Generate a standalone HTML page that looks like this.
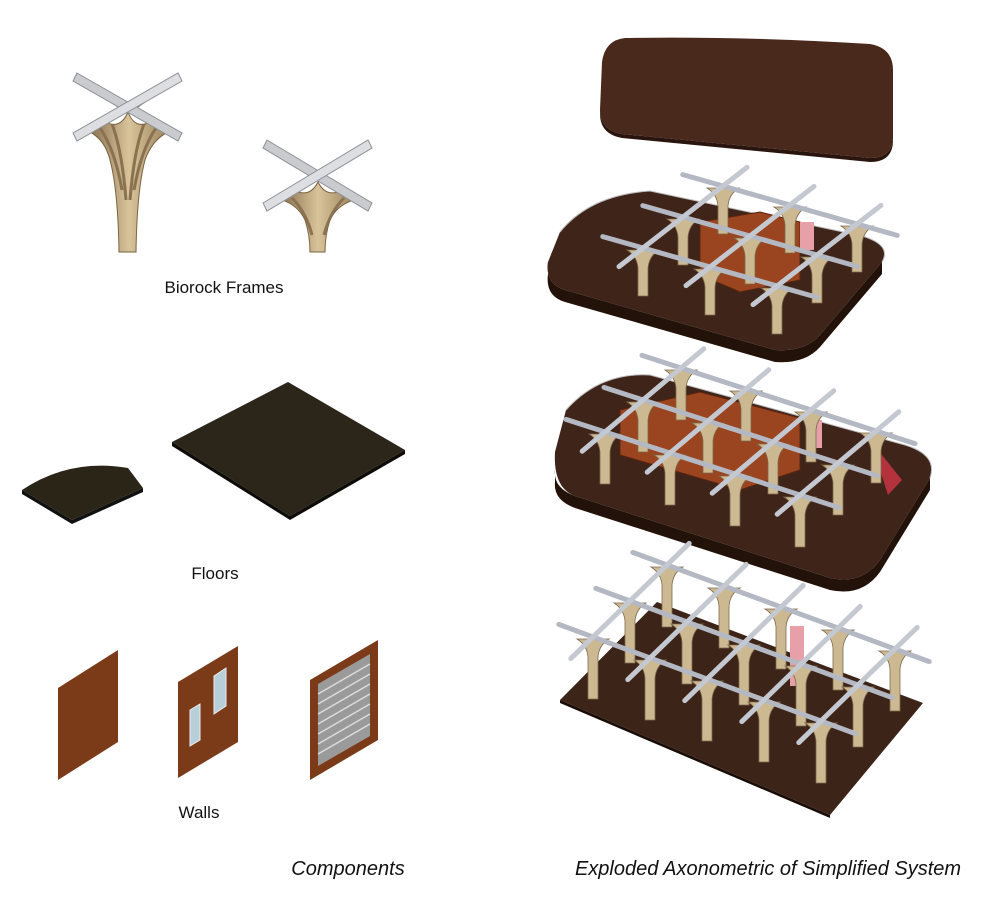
<!DOCTYPE html>
<html><head><meta charset="utf-8"><style>
html,body{margin:0;padding:0;background:#fff;}
svg{display:block}
text{font-family:"Liberation Sans",sans-serif;fill:#111;}
</style></head><body>
<svg id="s" width="995" height="898" viewBox="0 0 995 898">
<defs>
<linearGradient id="col" x1="0" x2="1"><stop offset="0" stop-color="#8a7150"/><stop offset=".5" stop-color="#d8c39a"/><stop offset="1" stop-color="#9c845e"/></linearGradient>
</defs>

<!-- Biorock frames -->
<g>
 <path d="M90,132 Q105,140 110,160 Q118,190 119,252 L136,252 Q137,190 145,160 Q152,140 168,132 L150,122 Q135,130 128,112 Q120,130 106,122 Z" fill="url(#col)" stroke="#7a6442" stroke-width="1"/>
 <path d="M84,82 Q110,100 124,110 M172,82 Q146,100 132,110 M100,128 Q115,150 122,190 M156,128 Q141,150 134,190 M112,124 Q122,150 126,200 M144,124 Q134,150 130,200" stroke="#8a7150" stroke-width="3" fill="none"/>
 <path d="M77,73 L182,133 L178,141 L73,81 Z" fill="#c9cbcf" stroke="#8d9096"/>
 <path d="M73,133 L178,73 L182,81 L77,141 Z" fill="#dcdee2" stroke="#8d9096"/>
</g>
<g>
 <path d="M282,200 Q298,205 305,220 Q310,235 310,252 L325,252 Q325,235 330,220 Q337,205 354,200 L338,192 Q325,196 318,182 Q311,196 298,192 Z" fill="url(#col)" stroke="#7a6442" stroke-width="1"/>
 <path d="M276,150 Q300,165 314,176 M360,150 Q336,165 322,176 M292,198 Q306,212 312,235 M344,198 Q330,212 324,235" stroke="#8a7150" stroke-width="3" fill="none"/>
 <path d="M267,140 L372,203 L368,211 L263,148 Z" fill="#c9cbcf" stroke="#8d9096"/>
 <path d="M263,203 L368,140 L372,148 L267,211 Z" fill="#dcdee2" stroke="#8d9096"/>
</g>
<text x="224" y="293" font-size="17" text-anchor="middle">Biorock Frames</text>

<!-- Floors -->
<path d="M22,490 Q70,458 128,468 L143,488 L72,520 Z" fill="#2b2518"/>
<path d="M22,490 L72,520 L72,524 L22,494 Z M72,520 L143,488 L143,492 L72,524Z" fill="#111"/>
<path d="M172,442 L288,382 L405,450 L290,516 Z" fill="#2c2519"/>
<path d="M172,442 L290,516 L290,520 L172,446 Z M290,516 L405,450 L405,454 L290,520Z" fill="#0e0c08"/>
<text x="215" y="579" font-size="17" text-anchor="middle">Floors</text>

<!-- Walls -->
<path d="M58,688 L118,650 L118,742 L58,780 Z" fill="#7b3a18"/>
<path d="M178,682 L238,646 L238,742 L178,778 Z" fill="#7b3a18"/>
<path d="M190,710 L200,704 L200,740 L190,746Z M214,676 L226,668 L226,706 L214,714Z" fill="#b7cfd8" stroke="#eee"/>
<path d="M310,680 L378,640 L378,740 L310,780 Z" fill="#7b3a18"/>
<path d="M318,684 L370,654 L370,736 L318,766 Z" fill="#9a9a9a"/>
<g stroke="#dcdcdc" stroke-width="1.5">
 <line x1="318" y1="694" x2="370" y2="664"/><line x1="318" y1="704" x2="370" y2="674"/><line x1="318" y1="714" x2="370" y2="684"/><line x1="318" y1="724" x2="370" y2="694"/><line x1="318" y1="734" x2="370" y2="704"/><line x1="318" y1="744" x2="370" y2="714"/><line x1="318" y1="754" x2="370" y2="724"/>
</g>
<text x="199" y="818" font-size="17" text-anchor="middle">Walls</text>

<!-- Roof -->
<path d="M625,38 Q740,36 870,44 Q893,48 893,70 L893,138 Q892,158 870,158 L622,134 Q600,130 600,110 L602,62 Q605,40 625,38 Z" fill="#4a291d"/>
<path d="M600,110 Q600,130 622,134 L870,158 Q892,158 893,138 L893,142 Q892,162 870,162 L622,138 Q600,134 600,114Z" fill="#2a150e"/>

<!-- Upper platform -->
<g>
 <path d="M548,262 L560,232 Q590,195 650,191 L862,236 Q892,245 882,262 L820,335 Q805,352 775,350 L565,290 Q545,284 548,262 Z" fill="#3f2419"/>
 <path d="M548,262 Q545,284 565,290 L775,350 Q805,352 820,335 L882,262 L882,274 L820,347 Q805,364 775,362 L565,302 Q545,296 548,274Z" fill="#231209"/>
 <path d="M560,232 Q590,195 650,191 L862,236 Q892,245 882,262" fill="none" stroke="#bbb" stroke-width="1"/>
 <g id="gU"></g>
</g>

<!-- Middle platform -->
<g>
 <path d="M555,452 L566,410 Q600,372 650,375 L905,445 Q938,455 930,478 L880,560 Q862,585 830,578 L575,496 Q553,488 555,452 Z" fill="#3f2419"/>
 <path d="M555,470 Q553,488 575,496 L830,578 Q862,585 880,560 L930,478 L930,490 L880,572 Q862,597 830,590 L575,508 Q553,500 555,482Z" fill="#231209"/>
 <path d="M566,410 Q600,372 650,375 L905,445 Q938,455 930,478" fill="none" stroke="#bbb" stroke-width="1"/>
 <path d="M870,440 L902,480 L888,495 L880,470 Z" fill="#b3323e"/>
 <g id="gM"></g>
</g>

<!-- Ground -->
<g>
 <path d="M560,700 L657,602 L923,703 L830,815 Z" fill="#3d2419"/>
 <path d="M560,700 L830,815 L830,818 L560,703Z" fill="#1a0d07"/>
 <g id="gG"></g>
</g>

<text x="348" y="875" font-size="20" font-style="italic" text-anchor="middle">Components</text>
<text x="768" y="875" font-size="20" font-style="italic" text-anchor="middle">Exploded Axonometric of Simplified System</text>
</svg>
<script>
const NS="http://www.w3.org/2000/svg";
function mk(p,tag,attrs){const e=document.createElementNS(NS,tag);for(const k in attrs)e.setAttribute(k,attrs[k]);p.appendChild(e);return e;}
function grid(id,o,a,b,cols,rows,h,room,pink){
 const g=document.getElementById(id);
 const P=(i,j)=>[o[0]+j*a[0]+i*b[0],o[1]+j*a[1]+i*b[1]];
 // back to front: rows i from rows-1 to 0
 if(room){const r=mk(g,'path',{d:room,fill:'#9a4420',stroke:'#5a2410'});
 
 }
 if(pink){const pk=mk(g,'rect',{x:pink[0],y:pink[1],width:14,height:pink[2],fill:'#e8a0a8'});
 
 }
 for(let i=rows-1;i>=0;i--){
  for(let j=0;j<cols;j++){
   const [x,y]=P(i,j);
   const c=mk(g,'path',{d:`M${x-16},${y+2} Q${x-6},${y+8} ${x-5},${y+20} L${x-5},${y+h} L${x+5},${y+h} L${x+5},${y+20} Q${x+6},${y+8} ${x+16},${y+2} Z`,fill:'#cdb991',stroke:'#7d6a4c','stroke-width':'0.8'});
   
   
  }
  const [x0,y0]=P(i,-0.6),[x1,y1]=P(i,cols-0.4);
  const bm=mk(g,'line',{x1:x0,y1:y0,x2:x1,y2:y1,stroke:'#b4b8c2','stroke-width':5,'stroke-linecap':'round'});
  
  
 }
 for(let j=0;j<cols;j++){
  const [x0,y0]=P(-0.6,j),[x1,y1]=P(rows-0.4,j);
  const bm=mk(g,'line',{x1:x0,y1:y0,x2:x1,y2:y1,stroke:'#c4c8d0','stroke-width':5,'stroke-linecap':'round'});
  
  
 }
}
grid('gU',[643,248],[67,19],[40,-31],3,3,48,'M700,222 L760,212 L800,222 L800,280 L740,292 L700,275Z',[800,222,28]);
grid('gM',[605,432],[65,21],[38,-32],4,3,52,'M620,410 L700,392 L800,418 L800,470 L740,490 L620,455Z',[808,420,28]);
grid('gG',[593,637],[57,21],[37,-36],5,3,62,null,[790,626,60]);
</script>
</body></html>
